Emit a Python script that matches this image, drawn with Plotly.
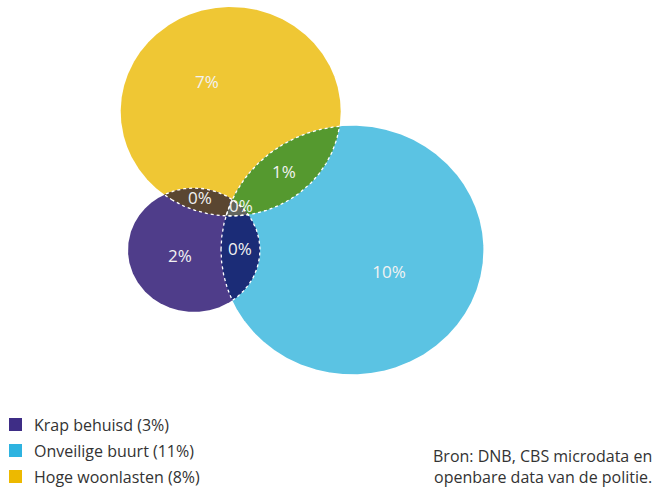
import numpy as np
import plotly.graph_objects as go

# ---- data ----
set_names = ["Krap behuisd", "Onveilige buurt", "Hoge woonlasten"]
set_pct = [3, 11, 8]
region_sets = [("H",), ("O",), ("K",), ("H", "K"), ("H", "O"), ("H", "O", "K"), ("K", "O")]
region_pct = [7, 10, 2, 0, 1, 0, 0]
source_lines = ["Bron: DNB, CBS microdata en", "openbare data van de politie."]

# ---- layout geometry (pixel-like units) ----
W, H = 655, 487
ellipses = {  # cx, cy, rx, ry
    "H": (230.7, 111.5, 110.0, 104.5),
    "O": (352.2, 250.0, 131.2, 124.3),
    "K": (194.0, 250.0, 66.0, 62.0),
}
fill_colors = {"H": "#EFC734", "O": "#5BC3E3", "K": "#4F3D8A",
               ("H", "K"): "#5A4631", ("H", "O"): "#55992F", ("K", "O"): "#1B2C77",
               ("H", "O", "K"): "#62655E"}
legend_colors = ["#3E2D86", "#2EB3E0", "#EDB900"]
label_pos = {("H",): (207, 84), ("O",): (389, 274), ("K",): (180, 258),
             ("H", "K"): (200, 200), ("H", "O"): (284, 174),
             ("H", "O", "K"): (241, 208), ("K", "O"): (240, 251)}
FONT = "Open Sans, Noto Sans, sans-serif"


def boundary(key, n=1500):
    cx, cy, rx, ry = ellipses[key]
    t = np.linspace(0, 2 * np.pi, n, endpoint=False)
    return cx + rx * np.cos(t), cy + ry * np.sin(t)


def inside(key, x, y, tol=1e-9):
    cx, cy, rx, ry = ellipses[key]
    return ((x - cx) / rx) ** 2 + ((y - cy) / ry) ** 2 <= 1 + tol


def intersection(keys):
    xs, ys = [], []
    for k in keys:
        x, y = boundary(k)
        m = np.ones_like(x, dtype=bool)
        for o in keys:
            if o != k:
                m &= inside(o, x, y, 1e-6)
        xs.append(x[m]); ys.append(y[m])
    x = np.concatenate(xs); y = np.concatenate(ys)
    mx, my = x.mean(), y.mean()
    order = np.argsort(np.arctan2(y - my, x - mx))
    x, y = x[order], y[order]
    return np.append(x, x[0]), np.append(y, y[0])


fig = go.Figure()

# full sets
for k in ["H", "O", "K"]:
    x, y = boundary(k)
    fig.add_trace(go.Scatter(x=np.append(x, x[0]), y=np.append(y, y[0]), mode="lines",
                             fill="toself", fillcolor=fill_colors[k], line=dict(width=0),
                             hoverinfo="skip", showlegend=False))

pairs = [("H", "K"), ("H", "O"), ("K", "O")]
pair_polys = {p: intersection(p) for p in pairs}
for p in pairs:
    x, y = pair_polys[p]
    fig.add_trace(go.Scatter(x=x, y=y, mode="lines", fill="toself",
                             fillcolor=fill_colors[p], line=dict(width=0),
                             hoverinfo="skip", showlegend=False))
tx, ty = intersection(("H", "O", "K"))
fig.add_trace(go.Scatter(x=tx, y=ty, mode="lines", fill="toself",
                         fillcolor=fill_colors[("H", "O", "K")], line=dict(width=0),
                         hoverinfo="skip", showlegend=False))
# dotted white borders
for p in pairs:
    x, y = pair_polys[p]
    fig.add_trace(go.Scatter(x=x, y=y, mode="lines",
                             line=dict(color="white", width=1.3, dash="dot"),
                             hoverinfo="skip", showlegend=False))

# region labels
fig.add_trace(go.Scatter(
    x=[label_pos[r][0] for r in region_sets],
    y=[label_pos[r][1] for r in region_sets],
    mode="text", text=[f"{v}%" for v in region_pct],
    textfont=dict(family=FONT, size=17, color="#F2F2F2"),
    hoverinfo="skip", showlegend=False))

# legend (manual)
leg_y = [424.5, 450.5, 476.5]
fig.add_trace(go.Scatter(x=[15.5] * 3, y=leg_y, mode="markers",
                         marker=dict(symbol="square", size=13, color=legend_colors,
                                     line=dict(width=0)),
                         hoverinfo="skip", showlegend=False))
for name, pct, yy in zip(set_names, set_pct, leg_y):
    fig.add_annotation(x=32, y=yy, xref="x", yref="y", text=f"{name} ({pct}%)",
                       showarrow=False, xanchor="left", yanchor="middle",
                       font=dict(family=FONT, size=16, color="#333333"))

fig.add_annotation(x=654, y=466, xref="x", yref="y", text="<br>".join(source_lines),
                   showarrow=False, xanchor="right", yanchor="middle", align="right",
                   font=dict(family=FONT, size=16, color="#333333"))

fig.update_layout(width=W, height=H, margin=dict(l=0, r=0, t=0, b=0),
                  paper_bgcolor="white", plot_bgcolor="white",
                  xaxis=dict(range=[0, W], visible=False, fixedrange=True),
                  yaxis=dict(range=[H, 0], visible=False, fixedrange=True))
fig.write_html("out.html", config={"displayModeBar": False},
               post_script="document.body.style.margin='0';document.body.style.overflow='hidden';")
